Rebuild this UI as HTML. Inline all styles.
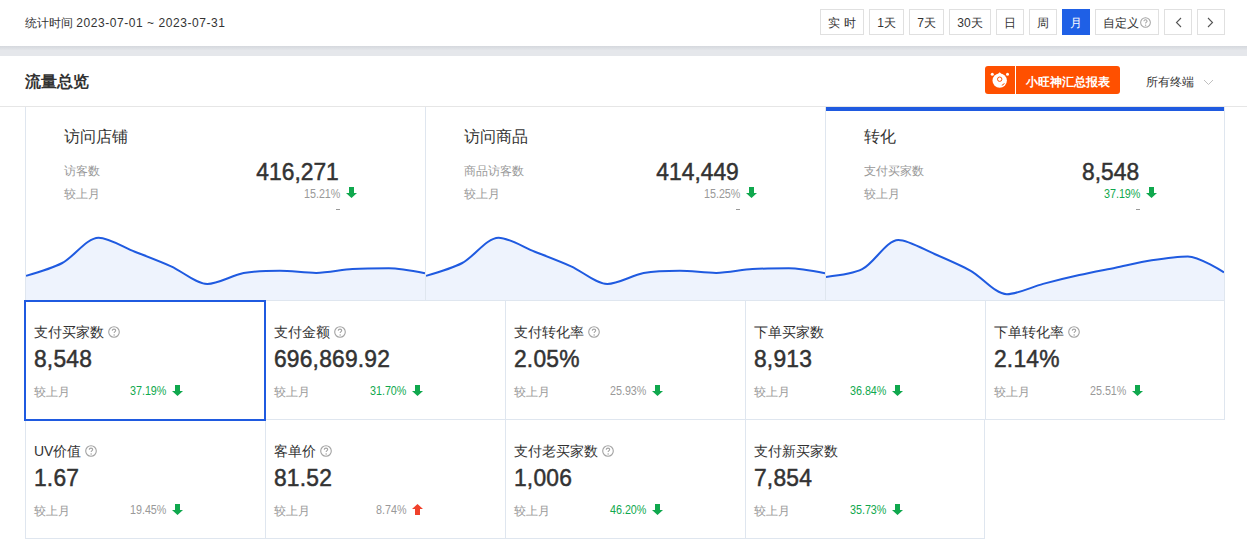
<!DOCTYPE html>
<html><head><meta charset="utf-8">
<style>
*{box-sizing:border-box;margin:0;padding:0}
html,body{width:1247px;height:559px;overflow:hidden;background:#fff;font-family:"Liberation Sans",sans-serif;color:#333;font-weight:350}
.a{position:absolute;white-space:nowrap}
.r{text-align:right}
.band{position:absolute;left:0;top:46px;width:1247px;height:10px;background:linear-gradient(#d5d8dd,#e5e7eb 45%,#e5e7eb)}
.date{left:25px;top:15px;font-size:12px;color:#333}
.date b{font-weight:normal;letter-spacing:0.55px}
.btn{position:absolute;top:9px;height:26px;border:1px solid #e0e0e0;background:#fff;font-size:12px;color:#333;text-align:center;line-height:27px}
.btn.on{background:#1f60e6;border-color:#1f60e6;color:#fff}
.title{left:25px;top:72px;font-size:16px;font-weight:bold;color:#333}
.hline{position:absolute;left:0;top:106px;width:1247px;height:1px;background:#e6e6e6}
.ct{font-size:16px;color:#333}
.lbl{font-size:12px;color:#999}
.big{font-size:24px;-webkit-text-stroke:0.5px #333;color:#333;letter-spacing:0;transform:scaleX(0.95);transform-origin:100% 50%}
.pct{font-size:12.5px;color:#999;transform:scaleX(0.86);transform-origin:100% 50%}
.g{color:#10a84e}
.dash{width:4px;height:1px;background:#999}
.clbl{font-size:14px;color:#333}
.cbig{font-size:24px;-webkit-text-stroke:0.5px #333;color:#333;letter-spacing:0.2px;transform:scaleX(0.95);transform-origin:0 50%}
.hq{display:inline-block;margin-left:4px;vertical-align:-1px}
</style></head>
<body>
<div class="band"></div>
<div class="a date">统计时间 <b>2023-07-01 ~ 2023-07-31</b></div>

<div class="btn" style="left:820px;width:44px">实 时</div>
<div class="btn" style="left:869px;width:35px">1天</div>
<div class="btn" style="left:909px;width:35px">7天</div>
<div class="btn" style="left:949px;width:42px">30天</div>
<div class="btn" style="left:996px;width:28px">日</div>
<div class="btn" style="left:1029px;width:28px">周</div>
<div class="btn on" style="left:1062px;width:28px">月</div>
<div class="btn" style="left:1095px;width:64px">自定义<svg class="hq" style="margin-left:1px;vertical-align:-1px" width="11" height="11" viewBox="0 0 12 12"><circle cx="6" cy="6" r="5.3" fill="none" stroke="#a3a3a3" stroke-width="1.1"/><path d="M4.3,4.7 C4.3,3.7 5.1,3.1 6,3.1 C6.9,3.1 7.7,3.7 7.7,4.6 C7.7,5.6 6.1,5.8 6.1,7.1" fill="none" stroke="#a3a3a3" stroke-width="1.1"/><circle cx="6.1" cy="8.9" r="0.75" fill="#a3a3a3"/></svg></div>
<div class="btn" style="left:1164px;width:28px"></div><svg class="a" style="left:1175px;top:17px" width="7" height="11" viewBox="0 0 7 11"><path d="M6,1 L1.5,5.5 L6,10" fill="none" stroke="#555" stroke-width="1.1"/></svg>
<div class="btn" style="left:1197px;width:28px"></div><svg class="a" style="left:1207px;top:17px" width="7" height="11" viewBox="0 0 7 11"><path d="M1,1 L5.5,5.5 L1,10" fill="none" stroke="#555" stroke-width="1.1"/></svg>

<div class="a title">流量总览</div>
<div class="a" style="left:985px;top:66px;width:135px;height:28px;background:#ff5000;border-radius:3px"></div>
<div class="a" style="left:1015px;top:66px;width:1px;height:28px;background:#fff"></div>
<div class="a" style="left:1026px;top:74px;font-size:12px;color:#fff;font-weight:bold">小旺神汇总报表</div>
<div class="a" style="left:1146px;top:74px;font-size:12px;color:#333">所有终端</div>
<svg class="a" style="left:1203px;top:79px" width="11" height="7" viewBox="0 0 11 7"><path d="M1,1 L5.5,5.5 L10,1" fill="none" stroke="#c0c0c0" stroke-width="1"/></svg>
<svg class="a" style="left:990px;top:70px" width="20" height="20" viewBox="0 0 20 20"><circle cx="9.7" cy="10.6" r="7.2" fill="#fff"/><path d="M7,5 L9.7,2.2 L12.4,5Z" fill="#fff"/><circle cx="2.3" cy="4.2" r="1.5" fill="#fff"/><circle cx="17.5" cy="4.2" r="1.5" fill="#fff"/><circle cx="9.7" cy="9.2" r="2.2" fill="none" stroke="#ff5000" stroke-width="1"/><path d="M11.8,15.2 Q13.8,15 14.3,13.2" fill="none" stroke="#ff5000" stroke-width="1"/></svg>

<div class="hline"></div>
<svg class="a" style="left:25px;top:0" width="401" height="300" viewBox="0 0 401 300"><path d="M1.00,275.90 C1.00,275.90 27.14,268.33 37.27,263.00 C48.91,256.87 61.96,237.70 73.55,237.70 C83.73,237.70 98.97,247.42 109.82,251.70 C120.73,256.00 135.38,261.53 146.09,266.30 C157.15,271.22 171.14,284.00 182.36,284.00 C192.90,284.00 207.53,275.14 218.64,273.10 C229.29,271.15 244.03,270.70 254.91,270.70 C265.79,270.70 280.32,272.90 291.18,272.90 C302.08,272.90 316.54,269.79 327.45,269.10 C338.31,268.41 352.90,268.30 363.73,268.30 C374.66,268.30 400.00,273.30 400.00,273.30 L400,300 L1,300 Z" fill="#eef3fd"/><path d="M1.00,275.90 C1.00,275.90 27.14,268.33 37.27,263.00 C48.91,256.87 61.96,237.70 73.55,237.70 C83.73,237.70 98.97,247.42 109.82,251.70 C120.73,256.00 135.38,261.53 146.09,266.30 C157.15,271.22 171.14,284.00 182.36,284.00 C192.90,284.00 207.53,275.14 218.64,273.10 C229.29,271.15 244.03,270.70 254.91,270.70 C265.79,270.70 280.32,272.90 291.18,272.90 C302.08,272.90 316.54,269.79 327.45,269.10 C338.31,268.41 352.90,268.30 363.73,268.30 C374.66,268.30 400.00,273.30 400.00,273.30" fill="none" stroke="#1f5ae0" stroke-width="2"/></svg><svg class="a" style="left:425px;top:0" width="401" height="300" viewBox="0 0 401 300"><path d="M1.00,275.90 C1.00,275.90 27.14,268.33 37.27,263.00 C48.91,256.87 61.96,237.70 73.55,237.70 C83.73,237.70 98.97,247.42 109.82,251.70 C120.73,256.00 135.38,261.53 146.09,266.30 C157.15,271.22 171.14,284.00 182.36,284.00 C192.90,284.00 207.53,275.14 218.64,273.10 C229.29,271.15 244.03,270.70 254.91,270.70 C265.79,270.70 280.32,272.90 291.18,272.90 C302.08,272.90 316.54,269.79 327.45,269.10 C338.31,268.41 352.90,268.30 363.73,268.30 C374.66,268.30 400.00,273.30 400.00,273.30 L400,300 L1,300 Z" fill="#eef3fd"/><path d="M1.00,275.90 C1.00,275.90 27.14,268.33 37.27,263.00 C48.91,256.87 61.96,237.70 73.55,237.70 C83.73,237.70 98.97,247.42 109.82,251.70 C120.73,256.00 135.38,261.53 146.09,266.30 C157.15,271.22 171.14,284.00 182.36,284.00 C192.90,284.00 207.53,275.14 218.64,273.10 C229.29,271.15 244.03,270.70 254.91,270.70 C265.79,270.70 280.32,272.90 291.18,272.90 C302.08,272.90 316.54,269.79 327.45,269.10 C338.31,268.41 352.90,268.30 363.73,268.30 C374.66,268.30 400.00,273.30 400.00,273.30" fill="none" stroke="#1f5ae0" stroke-width="2"/></svg><svg class="a" style="left:825px;top:0" width="401" height="300" viewBox="0 0 401 300"><path d="M1.00,276.90 C1.00,276.90 27.57,274.11 37.18,269.20 C49.28,263.01 61.53,239.90 73.36,239.90 C83.24,239.90 98.84,249.43 109.55,254.00 C120.55,258.70 135.29,265.00 145.73,270.80 C157.00,277.06 170.32,294.20 181.91,294.20 C192.03,294.20 207.18,286.78 218.09,283.90 C228.89,281.05 243.37,277.54 254.27,275.10 C265.08,272.68 279.60,269.92 290.45,267.70 C301.31,265.48 315.70,262.01 326.64,260.30 C337.41,258.62 352.42,256.40 362.82,256.40 C374.13,256.40 399.00,272.40 399.00,272.40 L399,300 L1,300 Z" fill="#eef3fd"/><path d="M1.00,276.90 C1.00,276.90 27.57,274.11 37.18,269.20 C49.28,263.01 61.53,239.90 73.36,239.90 C83.24,239.90 98.84,249.43 109.55,254.00 C120.55,258.70 135.29,265.00 145.73,270.80 C157.00,277.06 170.32,294.20 181.91,294.20 C192.03,294.20 207.18,286.78 218.09,283.90 C228.89,281.05 243.37,277.54 254.27,275.10 C265.08,272.68 279.60,269.92 290.45,267.70 C301.31,265.48 315.70,262.01 326.64,260.30 C337.41,258.62 352.42,256.40 362.82,256.40 C374.13,256.40 399.00,272.40 399.00,272.40" fill="none" stroke="#1f5ae0" stroke-width="2"/></svg>
<div class="a" style="left:25px;top:107px;width:1px;height:194px;background:#dfe6ef"></div>
<div class="a" style="left:425px;top:107px;width:1px;height:194px;background:#dfe6ef"></div>
<div class="a" style="left:825px;top:107px;width:1px;height:194px;background:#dfe6ef"></div>
<div class="a" style="left:1224px;top:107px;width:1px;height:194px;background:#dfe6ef"></div>
<div class="a" style="left:25px;top:300px;width:1200px;height:1px;background:#dfe6ef"></div>
<div class="a" style="left:25px;top:419px;width:1200px;height:1px;background:#dfe6ef"></div>
<div class="a" style="left:25px;top:538px;width:960px;height:1px;background:#dfe6ef"></div>
<div class="a" style="left:25px;top:300px;width:1px;height:120px;background:#dfe6ef"></div>
<div class="a" style="left:265px;top:300px;width:1px;height:120px;background:#dfe6ef"></div>
<div class="a" style="left:505px;top:300px;width:1px;height:120px;background:#dfe6ef"></div>
<div class="a" style="left:745px;top:300px;width:1px;height:120px;background:#dfe6ef"></div>
<div class="a" style="left:985px;top:300px;width:1px;height:120px;background:#dfe6ef"></div>
<div class="a" style="left:1224px;top:300px;width:1px;height:120px;background:#dfe6ef"></div>
<div class="a" style="left:25px;top:419px;width:1px;height:120px;background:#dfe6ef"></div>
<div class="a" style="left:265px;top:419px;width:1px;height:120px;background:#dfe6ef"></div>
<div class="a" style="left:505px;top:419px;width:1px;height:120px;background:#dfe6ef"></div>
<div class="a" style="left:745px;top:419px;width:1px;height:120px;background:#dfe6ef"></div>
<div class="a" style="left:984px;top:419px;width:1px;height:120px;background:#dfe6ef"></div>
<div class="a ct" style="left:64px;top:127px">访问店铺</div>
<div class="a lbl" style="left:64px;top:163px">访客数</div>
<div class="a lbl" style="left:64px;top:186px">较上月</div>
<div class="a big r" style="right:908px;top:158px">416,271</div>
<div class="a pct r" style="right:907px;top:187px">15.21%</div>
<svg class="a" width="11" height="11" viewBox="0 0 11 11" style="left:346px;top:187px"><path d="M3,0H8V6H11L5.5,11L0,6H3Z" fill="#10a84e"/></svg>
<div class="a dash" style="left:336px;top:209px"></div>
<div class="a ct" style="left:464px;top:127px">访问商品</div>
<div class="a lbl" style="left:464px;top:163px">商品访客数</div>
<div class="a lbl" style="left:464px;top:186px">较上月</div>
<div class="a big r" style="right:508px;top:158px">414,449</div>
<div class="a pct r" style="right:507px;top:187px">15.25%</div>
<svg class="a" width="11" height="11" viewBox="0 0 11 11" style="left:746px;top:187px"><path d="M3,0H8V6H11L5.5,11L0,6H3Z" fill="#10a84e"/></svg>
<div class="a dash" style="left:736px;top:209px"></div>
<div class="a ct" style="left:864px;top:127px">转化</div>
<div class="a lbl" style="left:864px;top:163px">支付买家数</div>
<div class="a lbl" style="left:864px;top:186px">较上月</div>
<div class="a big r" style="right:108px;top:158px">8,548</div>
<div class="a pct r g" style="right:107px;top:187px">37.19%</div>
<svg class="a" width="11" height="11" viewBox="0 0 11 11" style="left:1146px;top:187px"><path d="M3,0H8V6H11L5.5,11L0,6H3Z" fill="#10a84e"/></svg>
<div class="a dash" style="left:1136px;top:209px"></div>
<div class="a clbl" style="left:34px;top:324px">支付买家数<svg class="hq" width="12" height="12" viewBox="0 0 12 12"><circle cx="6" cy="6" r="5.3" fill="none" stroke="#a3a3a3" stroke-width="1.1"/><path d="M4.3,4.7 C4.3,3.7 5.1,3.1 6,3.1 C6.9,3.1 7.7,3.7 7.7,4.6 C7.7,5.6 6.1,5.8 6.1,7.1" fill="none" stroke="#a3a3a3" stroke-width="1.1"/><circle cx="6.1" cy="8.9" r="0.75" fill="#a3a3a3"/></svg></div>
<div class="a cbig" style="left:34px;top:345px">8,548</div>
<div class="a lbl" style="left:34px;top:384px">较上月</div>
<div class="a pct r g" style="right:1081px;top:384px">37.19%</div>
<svg class="a" width="11" height="11" viewBox="0 0 11 11" style="left:172px;top:385px"><path d="M3,0H8V6H11L5.5,11L0,6H3Z" fill="#10a84e"/></svg>
<div class="a clbl" style="left:274px;top:324px">支付金额<svg class="hq" width="12" height="12" viewBox="0 0 12 12"><circle cx="6" cy="6" r="5.3" fill="none" stroke="#a3a3a3" stroke-width="1.1"/><path d="M4.3,4.7 C4.3,3.7 5.1,3.1 6,3.1 C6.9,3.1 7.7,3.7 7.7,4.6 C7.7,5.6 6.1,5.8 6.1,7.1" fill="none" stroke="#a3a3a3" stroke-width="1.1"/><circle cx="6.1" cy="8.9" r="0.75" fill="#a3a3a3"/></svg></div>
<div class="a cbig" style="left:274px;top:345px">696,869.92</div>
<div class="a lbl" style="left:274px;top:384px">较上月</div>
<div class="a pct r g" style="right:841px;top:384px">31.70%</div>
<svg class="a" width="11" height="11" viewBox="0 0 11 11" style="left:412px;top:385px"><path d="M3,0H8V6H11L5.5,11L0,6H3Z" fill="#10a84e"/></svg>
<div class="a clbl" style="left:514px;top:324px">支付转化率<svg class="hq" width="12" height="12" viewBox="0 0 12 12"><circle cx="6" cy="6" r="5.3" fill="none" stroke="#a3a3a3" stroke-width="1.1"/><path d="M4.3,4.7 C4.3,3.7 5.1,3.1 6,3.1 C6.9,3.1 7.7,3.7 7.7,4.6 C7.7,5.6 6.1,5.8 6.1,7.1" fill="none" stroke="#a3a3a3" stroke-width="1.1"/><circle cx="6.1" cy="8.9" r="0.75" fill="#a3a3a3"/></svg></div>
<div class="a cbig" style="left:514px;top:345px">2.05%</div>
<div class="a lbl" style="left:514px;top:384px">较上月</div>
<div class="a pct r " style="right:601px;top:384px">25.93%</div>
<svg class="a" width="11" height="11" viewBox="0 0 11 11" style="left:652px;top:385px"><path d="M3,0H8V6H11L5.5,11L0,6H3Z" fill="#10a84e"/></svg>
<div class="a clbl" style="left:754px;top:324px">下单买家数</div>
<div class="a cbig" style="left:754px;top:345px">8,913</div>
<div class="a lbl" style="left:754px;top:384px">较上月</div>
<div class="a pct r g" style="right:361px;top:384px">36.84%</div>
<svg class="a" width="11" height="11" viewBox="0 0 11 11" style="left:892px;top:385px"><path d="M3,0H8V6H11L5.5,11L0,6H3Z" fill="#10a84e"/></svg>
<div class="a clbl" style="left:994px;top:324px">下单转化率<svg class="hq" width="12" height="12" viewBox="0 0 12 12"><circle cx="6" cy="6" r="5.3" fill="none" stroke="#a3a3a3" stroke-width="1.1"/><path d="M4.3,4.7 C4.3,3.7 5.1,3.1 6,3.1 C6.9,3.1 7.7,3.7 7.7,4.6 C7.7,5.6 6.1,5.8 6.1,7.1" fill="none" stroke="#a3a3a3" stroke-width="1.1"/><circle cx="6.1" cy="8.9" r="0.75" fill="#a3a3a3"/></svg></div>
<div class="a cbig" style="left:994px;top:345px">2.14%</div>
<div class="a lbl" style="left:994px;top:384px">较上月</div>
<div class="a pct r " style="right:121px;top:384px">25.51%</div>
<svg class="a" width="11" height="11" viewBox="0 0 11 11" style="left:1132px;top:385px"><path d="M3,0H8V6H11L5.5,11L0,6H3Z" fill="#10a84e"/></svg>
<div class="a clbl" style="left:34px;top:443px">UV价值<svg class="hq" width="12" height="12" viewBox="0 0 12 12"><circle cx="6" cy="6" r="5.3" fill="none" stroke="#a3a3a3" stroke-width="1.1"/><path d="M4.3,4.7 C4.3,3.7 5.1,3.1 6,3.1 C6.9,3.1 7.7,3.7 7.7,4.6 C7.7,5.6 6.1,5.8 6.1,7.1" fill="none" stroke="#a3a3a3" stroke-width="1.1"/><circle cx="6.1" cy="8.9" r="0.75" fill="#a3a3a3"/></svg></div>
<div class="a cbig" style="left:34px;top:464px">1.67</div>
<div class="a lbl" style="left:34px;top:503px">较上月</div>
<div class="a pct r " style="right:1081px;top:503px">19.45%</div>
<svg class="a" width="11" height="11" viewBox="0 0 11 11" style="left:172px;top:504px"><path d="M3,0H8V6H11L5.5,11L0,6H3Z" fill="#10a84e"/></svg>
<div class="a clbl" style="left:274px;top:443px">客单价<svg class="hq" width="12" height="12" viewBox="0 0 12 12"><circle cx="6" cy="6" r="5.3" fill="none" stroke="#a3a3a3" stroke-width="1.1"/><path d="M4.3,4.7 C4.3,3.7 5.1,3.1 6,3.1 C6.9,3.1 7.7,3.7 7.7,4.6 C7.7,5.6 6.1,5.8 6.1,7.1" fill="none" stroke="#a3a3a3" stroke-width="1.1"/><circle cx="6.1" cy="8.9" r="0.75" fill="#a3a3a3"/></svg></div>
<div class="a cbig" style="left:274px;top:464px">81.52</div>
<div class="a lbl" style="left:274px;top:503px">较上月</div>
<div class="a pct r " style="right:841px;top:503px">8.74%</div>
<svg class="a" width="11" height="11" viewBox="0 0 11 11" style="left:412px;top:504px"><path d="M3,11H8V5H11L5.5,0L0,5H3Z" fill="#f0412b"/></svg>
<div class="a clbl" style="left:514px;top:443px">支付老买家数<svg class="hq" width="12" height="12" viewBox="0 0 12 12"><circle cx="6" cy="6" r="5.3" fill="none" stroke="#a3a3a3" stroke-width="1.1"/><path d="M4.3,4.7 C4.3,3.7 5.1,3.1 6,3.1 C6.9,3.1 7.7,3.7 7.7,4.6 C7.7,5.6 6.1,5.8 6.1,7.1" fill="none" stroke="#a3a3a3" stroke-width="1.1"/><circle cx="6.1" cy="8.9" r="0.75" fill="#a3a3a3"/></svg></div>
<div class="a cbig" style="left:514px;top:464px">1,006</div>
<div class="a lbl" style="left:514px;top:503px">较上月</div>
<div class="a pct r g" style="right:601px;top:503px">46.20%</div>
<svg class="a" width="11" height="11" viewBox="0 0 11 11" style="left:652px;top:504px"><path d="M3,0H8V6H11L5.5,11L0,6H3Z" fill="#10a84e"/></svg>
<div class="a clbl" style="left:754px;top:443px">支付新买家数</div>
<div class="a cbig" style="left:754px;top:464px">7,854</div>
<div class="a lbl" style="left:754px;top:503px">较上月</div>
<div class="a pct r g" style="right:361px;top:503px">35.73%</div>
<svg class="a" width="11" height="11" viewBox="0 0 11 11" style="left:892px;top:504px"><path d="M3,0H8V6H11L5.5,11L0,6H3Z" fill="#10a84e"/></svg>
<div class="a" style="left:24px;top:300px;width:242px;height:121px;border:2px solid #1f5ae0"></div>
<div class="a" style="left:826px;top:107px;width:398px;height:4px;background:#1f5ae0"></div>
</body></html>
